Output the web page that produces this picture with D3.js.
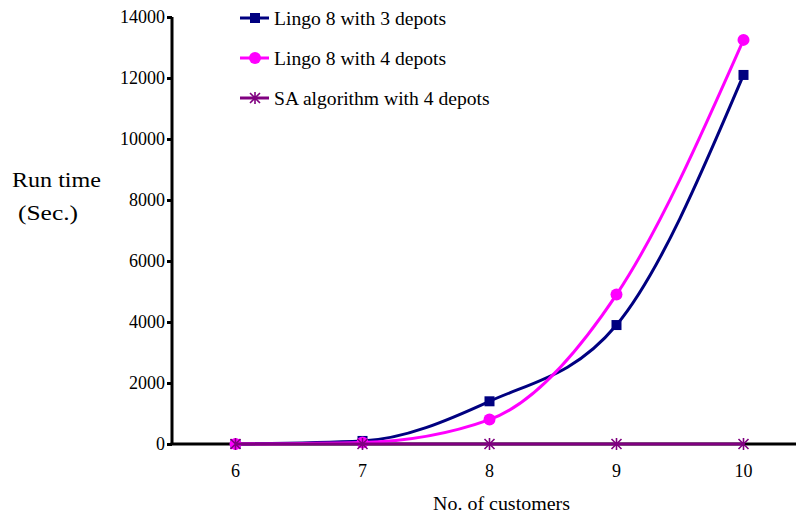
<!DOCTYPE html>
<html>
<head>
<meta charset="utf-8">
<script src="https://cdn.jsdelivr.net/npm/d3@7"></script>
<style>
  body { margin: 0; background: #fff; }
  svg text { font-family: "Liberation Serif", "Times New Roman", serif; fill: #000; }
</style>
</head>
<body>
<div id="container"></div>
<script>
// données
const customers = [6, 7, 8, 9, 10];
const lingo3 = [0, 100, 1400, 3900, 12100];
const lingo4 = [0, 50, 800, 4900, 13250];
const saAlgo = [0, 0, 0, 0, 0];
const yTicks = [0, 2000, 4000, 6000, 8000, 10000, 12000, 14000];
const seriesNames = ["Lingo 8 with 3 depots", "Lingo 8 with 4 depots", "SA algorithm with 4 depots"];

const width = 796, height = 517;
const plotLeft = 172, plotRight = 807, plotTop = 17, plotBottom = 444;
const serif = "Liberation Serif";

const svg = d3.select("#container").append("svg")
    .attr("width", width)
    .attr("height", height)
    .attr("font-family", serif);

const x = d3.scalePoint().domain(customers).range([plotLeft, plotRight]).padding(0.5);
const y = d3.scaleLinear().domain([0, 14000]).range([plotBottom, plotTop]);

// axe des y
const yAxis = svg.append("g")
    .attr("transform", `translate(${plotLeft},0)`)
    .call(d3.axisLeft(y).tickValues(yTicks).tickSize(5).tickPadding(2).tickFormat(d3.format("d")))
    .attr("font-family", serif)
    .attr("font-size", 18);
yAxis.select(".domain").attr("stroke", "#000").attr("stroke-width", 3).attr("d", `M0,${plotTop}V${plotBottom}`);
yAxis.selectAll(".tick line").attr("stroke", "#000").attr("stroke-width", 3);
yAxis.selectAll(".tick text").attr("fill", "#000");

// axe des x
svg.append("line")
    .attr("x1", plotLeft - 1.5).attr("x2", 796)
    .attr("y1", plotBottom).attr("y2", plotBottom)
    .attr("stroke", "#000").attr("stroke-width", 3);

svg.append("g").selectAll("text")
    .data(customers)
    .join("text")
    .attr("x", d => x(d))
    .attr("y", plotBottom + 33)
    .attr("text-anchor", "middle")
    .attr("font-size", 18)
    .text(d => d);

svg.append("text")
    .attr("x", 433).attr("y", 510)
    .attr("font-size", 19)
    .attr("textLength", 137)
    .attr("lengthAdjust", "spacingAndGlyphs")
    .text("No. of customers");

svg.append("text").attr("x", 12).attr("y", 187).attr("font-size", 21)
    .attr("textLength", 89).attr("lengthAdjust", "spacingAndGlyphs").text("Run time");
svg.append("text").attr("x", 18).attr("y", 220).attr("font-size", 21)
    .attr("textLength", 60).attr("lengthAdjust", "spacingAndGlyphs").text("(Sec.)");

const series = [
    {name: seriesNames[0], values: lingo3, color: "#000080", marker: "square"},
    {name: seriesNames[1], values: lingo4, color: "#ff00ff", marker: "circle"},
    {name: seriesNames[2], values: saAlgo, color: "#800080", marker: "star"}
];

const line = d3.line()
    .x(d => x(d[0]))
    .y(d => y(d[1]))
    .curve(d3.curveMonotoneX);

function drawMarker(g, type, color) {
    if (type === "square") {
        g.append("rect").attr("x", -5).attr("y", -5).attr("width", 10).attr("height", 10).attr("fill", color);
    } else if (type === "circle") {
        g.append("circle").attr("r", 6).attr("fill", color);
    } else {
        const r = 5;
        g.append("path")
            .attr("d", `M0,${-r - 1}V${r + 1}M${-r},${-r}L${r},${r}M${-r},${r}L${r},${-r}`)
            .attr("stroke", color).attr("stroke-width", 1.6).attr("fill", "none");
    }
}

for (let s of series) {
    const pts = customers.map((c, i) => [c, s.values[i]]);
    svg.append("path")
        .attr("d", line(pts))
        .attr("fill", "none")
        .attr("stroke", s.color)
        .attr("stroke-width", 3);
    for (let p of pts) {
        const g = svg.append("g").attr("transform", `translate(${x(p[0])},${y(p[1])})`);
        drawMarker(g, s.marker, s.color);
    }
}

// légende
series.forEach((s, i) => {
    const ly = 18 + i * 40;
    const g = svg.append("g").attr("transform", `translate(240,${ly})`);
    g.append("line").attr("x1", 0).attr("x2", 29).attr("y1", 0).attr("y2", 0)
        .attr("stroke", s.color).attr("stroke-width", 3);
    const m = g.append("g").attr("transform", "translate(15,0)");
    drawMarker(m, s.marker, s.color);
    g.append("text").attr("transform", "translate(34,7) scale(1.09,1)").attr("font-size", 18).text(s.name);
});
</script>
</body>
</html>
